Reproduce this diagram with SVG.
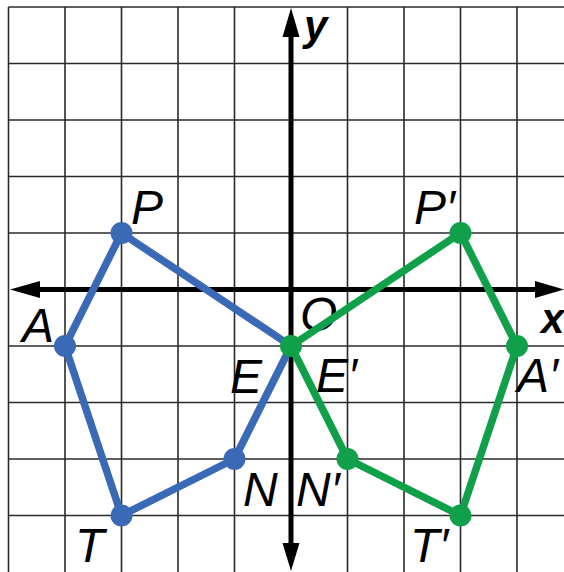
<svg xmlns="http://www.w3.org/2000/svg" width="564" height="572" viewBox="0 0 564 572">
<style>
.grid line{stroke:#2a2a2a;stroke-width:1.6}
.axis{stroke:#000;stroke-width:5;fill:none}
.head{fill:#000}
.blue{stroke:#3a6ab6;stroke-width:7.5;fill:none;stroke-linejoin:round}
.green{stroke:#11a04a;stroke-width:7.5;fill:none;stroke-linejoin:round}
.bdot{fill:#3a6ab6}
.gdot{fill:#11a04a}
text{font-family:"Liberation Sans",Arial,sans-serif;font-style:italic;font-size:48px;fill:#000}
.ax{font-weight:bold;font-size:42px}
</style>
<rect width="564" height="572" fill="#fff"/>
<g class="grid" id="grid">
<line x1="8.5" y1="7" x2="8.5" y2="572"/>
<line x1="65" y1="7" x2="65" y2="572"/>
<line x1="121.5" y1="7" x2="121.5" y2="572"/>
<line x1="178" y1="7" x2="178" y2="572"/>
<line x1="234.5" y1="7" x2="234.5" y2="572"/>
<line x1="347.5" y1="7" x2="347.5" y2="572"/>
<line x1="404" y1="7" x2="404" y2="572"/>
<line x1="460.5" y1="7" x2="460.5" y2="572"/>
<line x1="517" y1="7" x2="517" y2="572"/>
<line x1="8.5" y1="7" x2="564" y2="7"/>
<line x1="8.5" y1="63.5" x2="564" y2="63.5"/>
<line x1="8.5" y1="120" x2="564" y2="120"/>
<line x1="8.5" y1="176.5" x2="564" y2="176.5"/>
<line x1="8.5" y1="233" x2="564" y2="233"/>
<line x1="8.5" y1="346" x2="564" y2="346"/>
<line x1="8.5" y1="402.5" x2="564" y2="402.5"/>
<line x1="8.5" y1="459" x2="564" y2="459"/>
<line x1="8.5" y1="515.5" x2="564" y2="515.5"/>
</g>
<g id="axes">
<line class="axis" x1="291" y1="34" x2="291" y2="546"/>
<line class="axis" x1="37" y1="289.5" x2="538" y2="289.5"/>
<polygon class="head" points="291,8 282.5,37 299.5,37"/>
<polygon class="head" points="291,571 282.5,543 299.5,543"/>
<polygon class="head" points="10,289.5 40,281 40,298"/>
<polygon class="head" points="564,289.5 535,281 535,298"/>
<text class="ax" x="304" y="40">y</text>
<text class="ax" x="541" y="333">x</text>
<text x="300" y="331">O</text>
</g>
<g id="connectors">
<polygon class="blue" points="121.5,233 291,346 234.5,459 121.5,515.5 65,346"/>
<polygon class="green" points="460.5,233 291,346 347.5,459 460.5,515.5 517,346"/>
</g>
<g id="node-P"><circle class="bdot" cx="121.5" cy="233" r="11"/><text x="131" y="224">P</text></g>
<g id="node-A"><circle class="bdot" cx="65" cy="346" r="11"/><text x="22" y="342">A</text></g>
<g id="node-T"><circle class="bdot" cx="121.5" cy="515.5" r="11"/><text x="75" y="562">T</text></g>
<g id="node-N"><circle class="bdot" cx="234.5" cy="459" r="11"/><text x="243" y="506">N</text></g>
<g id="node-E"><text x="230" y="393">E</text></g>
<g id="node-P-prime"><circle class="gdot" cx="460.5" cy="233" r="11"/><text x="414" y="224">P′</text></g>
<g id="node-A-prime"><circle class="gdot" cx="517" cy="346" r="11"/><text x="517" y="392">A′</text></g>
<g id="node-T-prime"><circle class="gdot" cx="460.5" cy="515.5" r="11"/><text x="410" y="562">T′</text></g>
<g id="node-N-prime"><circle class="gdot" cx="347.5" cy="459" r="11"/><text x="296" y="506">N′</text></g>
<g id="node-E-prime"><circle class="gdot" cx="291" cy="346" r="11"/><text x="316" y="392">E′</text></g>
</svg>
